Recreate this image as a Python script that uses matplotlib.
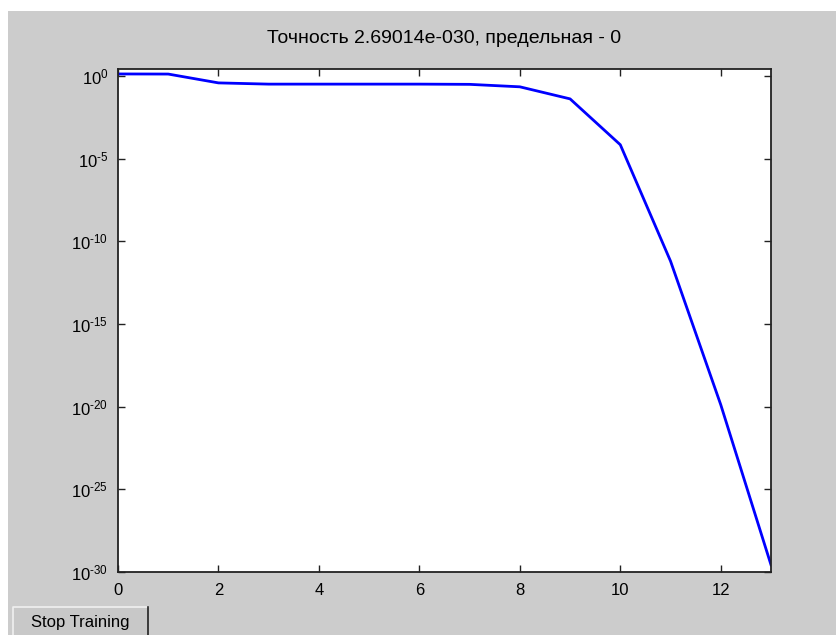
import matplotlib
matplotlib.use("Agg")
import matplotlib.pyplot as plt
from matplotlib.patches import Rectangle
from matplotlib.ticker import FixedLocator, FixedFormatter

plt.rcParams['font.family'] = ['Liberation Sans', 'DejaVu Sans']
plt.rcParams['mathtext.fontset'] = 'custom'
plt.rcParams['mathtext.rm'] = 'Liberation Sans'
plt.rcParams['mathtext.it'] = 'Liberation Sans'

# training performance per epoch
epochs = [0, 1, 2, 3, 4, 5, 6, 7, 8, 9, 10, 11, 12, 13]
perf = [1.32, 1.30, 0.38, 0.32, 0.32, 0.32, 0.32, 0.31, 0.22, 0.041,
        6.9e-5, 6.3e-12, 1.3e-20, 2.69014e-30]

xticks = [0, 2, 4, 6, 8, 10, 12]
ydecades = [0, -5, -10, -15, -20, -25, -30]
title = "Точность 2.69014e-030, предельная - 0"

W, H = 837, 635
fig = plt.figure(figsize=(W / 100, H / 100), dpi=100, facecolor='#cccccc')
# white strips outside the window (top and left)
fig.patches.append(Rectangle((0, 1 - 11 / H), 1, 11 / H, transform=fig.transFigure,
                             facecolor='white', edgecolor='none'))
fig.patches.append(Rectangle((0, 0), 8 / W, 1, transform=fig.transFigure,
                             facecolor='white', edgecolor='none'))

ax = fig.add_axes([118 / W, 63 / H, (771 - 118) / W, (572 - 69) / H])
ax.plot(epochs, perf, color='#0000ff', lw=2.0)
ax.set_yscale('log')
ax.set_xlim(0, 13)
ax.set_ylim(1e-30, 10 ** 0.42)

ax.xaxis.set_major_locator(FixedLocator(xticks))
ax.set_xticklabels([str(t) for t in xticks])
ax.yaxis.set_major_locator(FixedLocator([10.0 ** d for d in ydecades]))
ylabels = ['$10^{%s}$' % (str(d) if d == 0 else r'\text{-}%d' % -d) for d in ydecades]
ax.yaxis.set_major_formatter(FixedFormatter(ylabels))
ax.yaxis.set_minor_locator(FixedLocator([]))

ax.tick_params(direction='in', length=5, width=1, color='#222222',
               top=True, right=True, labelsize=12, labelcolor='black')
ax.tick_params(axis='x', pad=8)
ax.tick_params(axis='y', pad=7)
for s in ax.spines.values():
    s.set_color('#222222')
    s.set_linewidth(1.3)

ax.set_title(title, fontsize=14, pad=19)

# "Stop Training" button
bx, by, bw, bh = 13, 607, 135, 28
fig.patches.append(Rectangle((bx / W, 0), bw / W, bh / H, transform=fig.transFigure,
                             facecolor='#c8c8c8', edgecolor='none'))
fig.add_artist(plt.Line2D([bx / W, bx / W, (bx + bw) / W], [0, bh / H, bh / H],
                          transform=fig.transFigure, color='#f0f0f0', lw=1.2))
fig.add_artist(plt.Line2D([(bx + bw) / W, (bx + bw) / W], [0, bh / H],
                          transform=fig.transFigure, color='#222222', lw=1.2))
fig.text((bx + bw / 2) / W, 13 / H, "Stop Training", ha='center', va='center',
         fontsize=12)

fig.savefig("out.png", dpi=100, facecolor=fig.get_facecolor())
